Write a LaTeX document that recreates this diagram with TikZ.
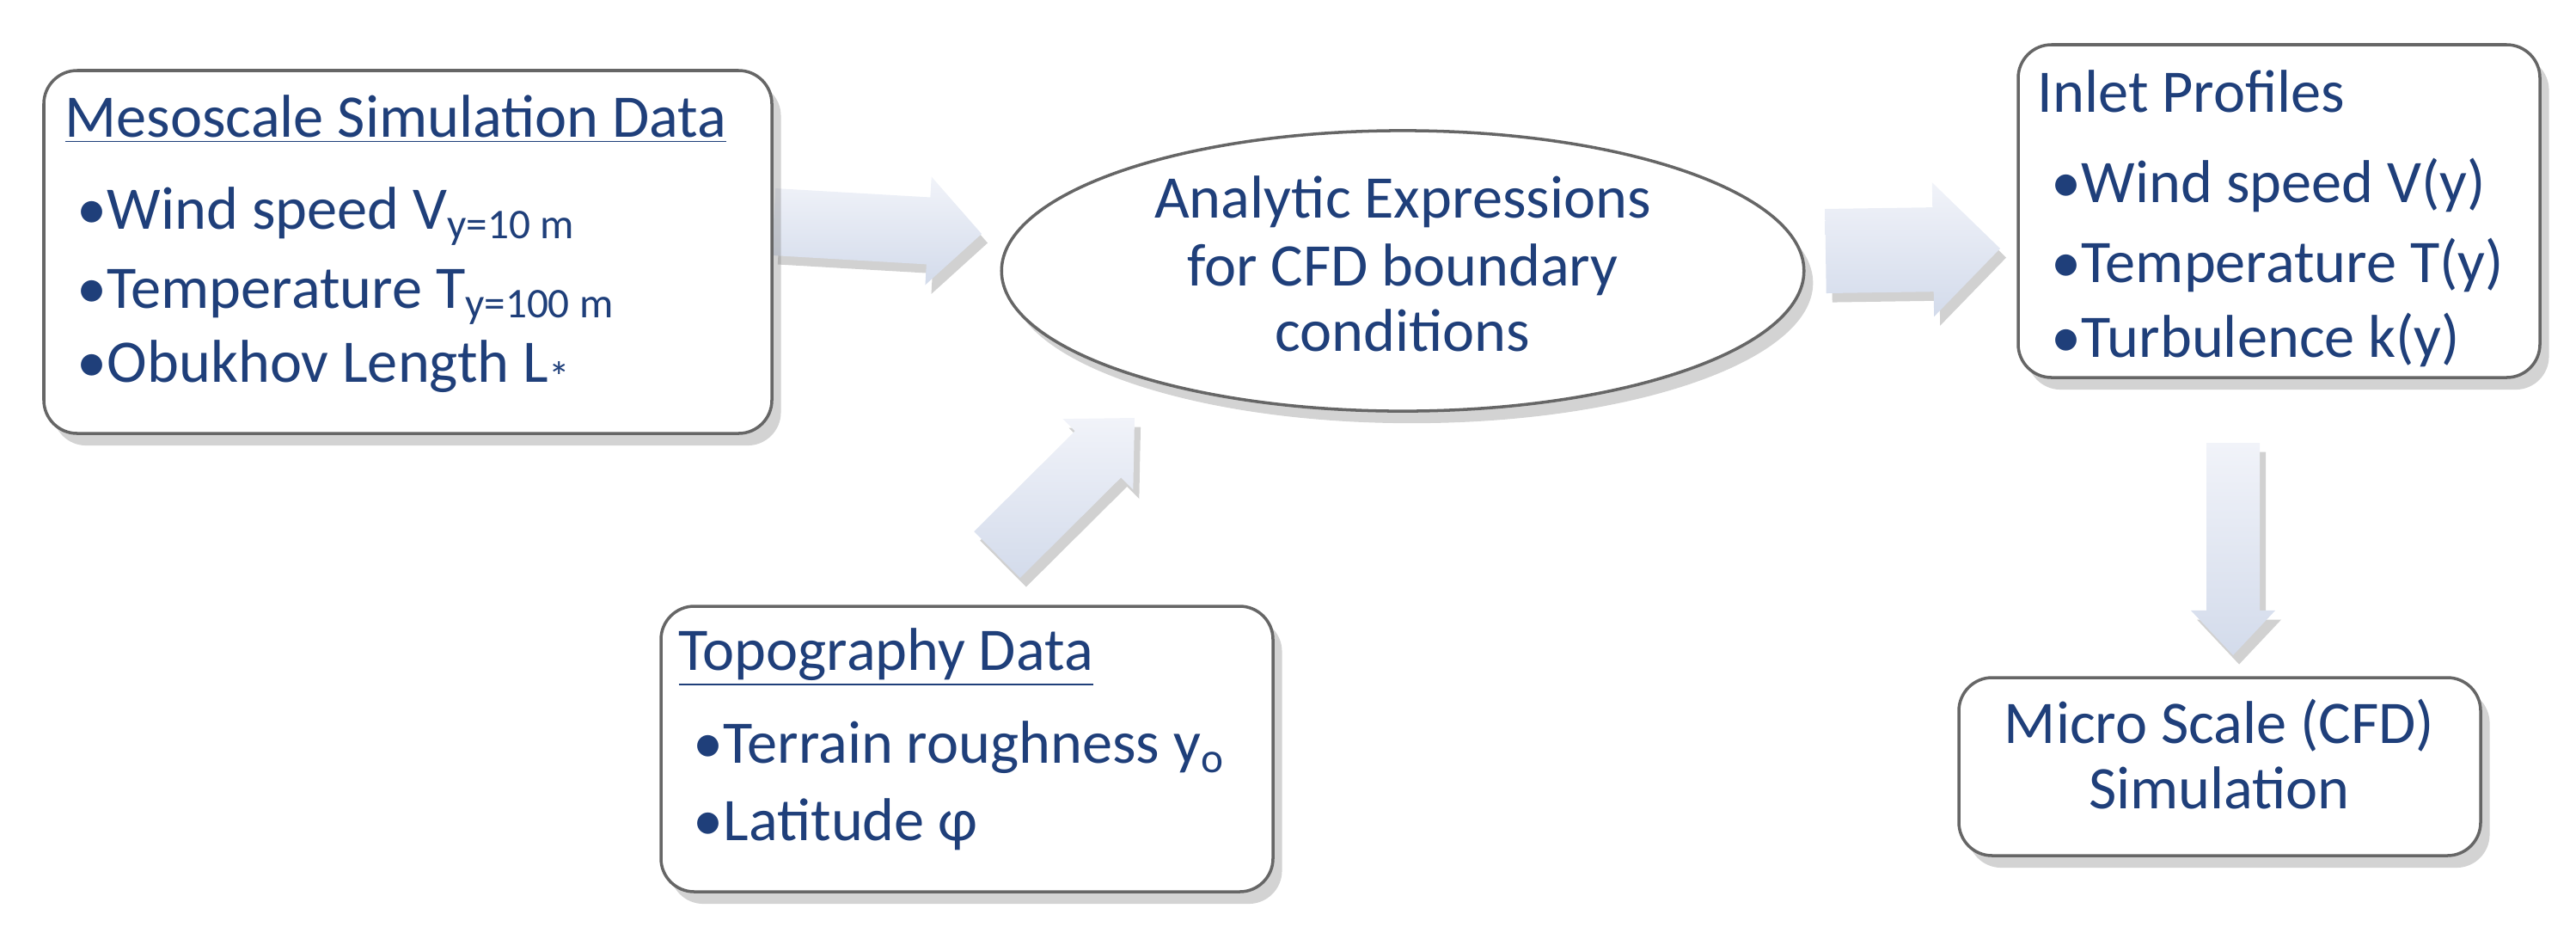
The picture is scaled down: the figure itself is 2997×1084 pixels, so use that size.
\documentclass[tikz,border=0pt]{standalone}
\usepackage{fontspec}
\setmainfont{Carlito}
\usetikzlibrary{shapes.geometric,shadows,calc}
\definecolor{txt}{HTML}{1F3F7A}
\definecolor{arr}{HTML}{D3DBEB}
\definecolor{arrl}{HTML}{F1F3F9}
\newcommand{\lowsub}[1]{\raisebox{-0.35ex}{\fontsize{14}{14}\selectfont #1}}
% name, start, end, body half, head half, head length
\newcommand{\fatarrow}[6]{%
  \coordinate (#1h) at ($(#3)!#6!(#2)$);
  \path[fill=black!18,transform canvas={xshift=2pt,yshift=-3pt}]
    ($(#2)!#4!90:(#3)$) -- ($(#1h)!#4!-90:(#2)$) -- ($(#1h)!#5!-90:(#2)$) -- (#3)
    -- ($(#1h)!#5!90:(#2)$) -- ($(#1h)!#4!90:(#2)$) -- ($(#2)!#4!-90:(#3)$) -- cycle;
  \path[top color=arrl,bottom color=arr,draw=none]
    ($(#2)!#4!90:(#3)$) -- ($(#1h)!#4!-90:(#2)$) -- ($(#1h)!#5!-90:(#2)$) -- (#3)
    -- ($(#1h)!#5!90:(#2)$) -- ($(#1h)!#4!90:(#2)$) -- ($(#2)!#4!-90:(#3)$) -- cycle;}
\begin{document}
\begin{tikzpicture}[x=0.01cm,y=-0.01cm,
  box/.style={draw=black!60,line width=1pt,rounded corners=11pt,fill=white,drop shadow={shadow xshift=3pt,shadow yshift=-4pt,opacity=0.35}},
  t/.style={anchor=base west,inner sep=0,text=txt,font=\fontsize{20}{24}\selectfont},
  c/.style={anchor=base,inner sep=0,text=txt,font=\fontsize{20}{24}\selectfont},
]
\useasboundingbox (0,0) rectangle (2997,1084);
% fat arrows
\coordinate (a1s) at (900,258); \coordinate (a1e) at (1142,272);
\coordinate (a2s) at (1160,645); \coordinate (a2e) at (1320,486);
\coordinate (a3s) at (2124,292); \coordinate (a3e) at (2327,289);
\coordinate (a4s) at (2598,515); \coordinate (a4e) at (2598,762);
\fatarrow{a1}{a1s}{a1e}{0.39cm}{0.63cm}{0.62cm}
\fatarrow{a2}{a2s}{a2e}{0.38cm}{0.58cm}{0.60cm}
\fatarrow{a3}{a3s}{a3e}{0.49cm}{0.78cm}{0.78cm}
\fatarrow{a4}{a4s}{a4e}{0.31cm}{0.49cm}{0.52cm}
% boxes
\draw[box] (51,82) rectangle (898,504);
\node[box,ellipse,minimum width=9.33cm,minimum height=3.26cm] (ell) at (1632,315) {};
\draw[box] (2348,52) rectangle (2955,439);
\draw[box] (769,705) rectangle (1481,1037);
\draw[box] (2279,788) rectangle (2886,995);
% texts
\node[t] (m0) at (75,159) {\underline{Mesoscale Simulation Data}};
\node[t] (mb1) at (89,266) {•}; \node[t] (m1) at (124,266) {Wind speed V\lowsub{y=10 m}};
\node[t] (mb2) at (89,358) {•}; \node[t] (m2) at (124,358) {Temperature T\lowsub{y=100 m}};
\node[t] (mb3) at (89,444) {•}; \node[t] (m3) at (124,444) {Obukhov Length L\lowsub{*}};
\node[c] (e1) at (1632,253) {Analytic Expressions};
\node[c] (e2) at (1632,332) {for CFD boundary};
\node[c] (e3) at (1632,408) {conditions};
\node[t] (i0) at (2370,130) {Inlet Profiles};
\node[t] (ib1) at (2386,235) {•}; \node[t] (i1) at (2421,235) {Wind speed V(y)};
\node[t] (ib2) at (2386,328) {•}; \node[t] (i2) at (2421,328) {Temperature T(y)};
\node[t] (ib3) at (2386,415) {•}; \node[t] (i3) at (2421,415) {Turbulence k(y)};
\node[t] (p0) at (789,779) {\underline{Topography Data}};
\node[t] (pb1) at (806,887) {•}; \node[t] (p1) at (841,887) {Terrain roughness y\lowsub{o}};
\node[t] (pb2) at (806,977) {•}; \node[t] (p2) at (841,977) {Latitude φ};
\node[c] (ms1) at (2582,864) {Micro Scale (CFD)};
\node[c] (ms2) at (2582,940) {Simulation};
\end{tikzpicture}
\end{document}
